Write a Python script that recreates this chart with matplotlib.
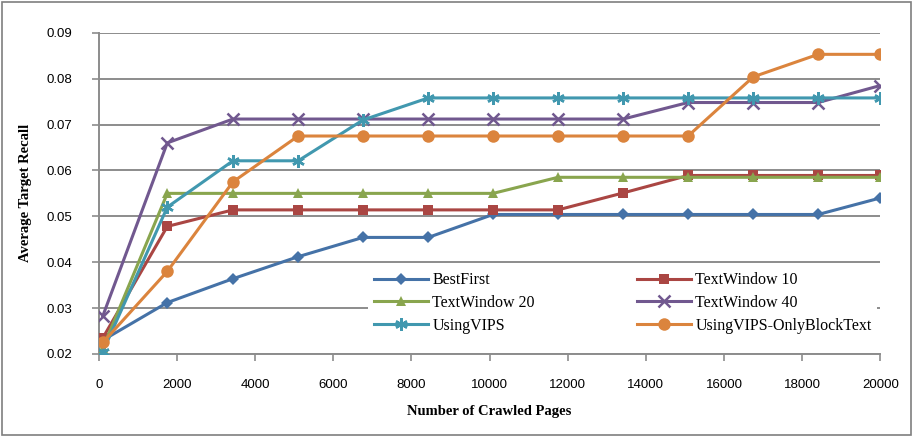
import matplotlib
matplotlib.use("Agg")
import matplotlib.pyplot as plt
from matplotlib.patches import Rectangle

# 데이터
pages = [100, 1750, 3430, 5100, 6760, 8430, 10090, 11750, 13420, 15080, 16750, 18410, 20000]
best_first = [0.0230, 0.0312, 0.0364, 0.0412, 0.0454, 0.0454, 0.0504, 0.0504, 0.0504, 0.0504, 0.0504, 0.0504, 0.0540]
text_win10 = [0.0235, 0.0478, 0.0514, 0.0514, 0.0514, 0.0514, 0.0514, 0.0514, 0.0551, 0.0589, 0.0589, 0.0589, 0.0589]
text_win20 = [0.0213, 0.0550, 0.0550, 0.0550, 0.0550, 0.0550, 0.0550, 0.0585, 0.0585, 0.0585, 0.0585, 0.0585, 0.0585]
text_win40 = [0.0283, 0.0660, 0.0712, 0.0712, 0.0712, 0.0712, 0.0712, 0.0712, 0.0712, 0.0748, 0.0748, 0.0748, 0.0785]
using_vips = [0.0205, 0.0520, 0.0621, 0.0621, 0.0710, 0.0758, 0.0758, 0.0758, 0.0758, 0.0758, 0.0758, 0.0758, 0.0758]
vips_block = [0.0225, 0.0380, 0.0575, 0.0675, 0.0675, 0.0675, 0.0675, 0.0675, 0.0675, 0.0675, 0.0804, 0.0853, 0.0853]

series = [
    ("BestFirst", best_first, "#4572A7", "D", 6),
    ("TextWindow 10", text_win10, "#AA4643", "s", 7),
    ("TextWindow 20", text_win20, "#89A54E", "^", 7.5),
    ("TextWindow 40", text_win40, "#71588F", "x", 8),
    ("UsingVIPS", using_vips, "#4198AF", (6, 2, 0), 9),
    ("UsingVIPS-OnlyBlockText", vips_block, "#DB843D", "o", 9),
]

SERIF = ["Liberation Serif", "DejaVu Serif"]
SANS = ["Liberation Sans", "DejaVu Sans"]
GRID = "#8c8c8c"

fig = plt.figure(figsize=(9.16, 4.37), dpi=100)
ax = fig.add_axes([0.108, 0.19, 0.853, 0.735])

lines = []
for name, vals, col, mk, ms in series:
    mew = 1.8 if mk in ("x", (6, 2, 0)) else 0
    ln, = ax.plot(pages, vals, color=col, lw=2.2, marker=mk, ms=ms, mew=mew,
                  mfc=col, mec=col, label=name, zorder=3)
    lines.append(ln)

ax.set_xlim(0, 20000)
ax.set_ylim(0.02, 0.09)
ax.set_xticks(range(0, 20001, 2000))
ax.set_yticks([0.02, 0.03, 0.04, 0.05, 0.06, 0.07, 0.08, 0.09])
ax.set_yticklabels([f"{v:.2f}" for v in ax.get_yticks()])
ax.grid(axis="y", color=GRID, lw=1.4, zorder=0)
ax.set_axisbelow(True)
for s in ("top", "right"):
    ax.spines[s].set_visible(False)
for s in ("left", "bottom"):
    ax.spines[s].set_color(GRID)
    ax.spines[s].set_linewidth(1.4)
ax.tick_params(axis="both", colors=GRID, length=5, width=1.2, labelcolor="black")
ax.tick_params(axis="x", pad=13)
ax.tick_params(axis="y", pad=14)
for lab in ax.get_xticklabels() + ax.get_yticklabels():
    lab.set_family(SANS)
    lab.set_fontsize(9.5)

ax.set_xlabel("Number of Crawled Pages", family=SERIF, fontweight="bold", fontsize=10.5, labelpad=10)
ax.set_ylabel("Average Target Recall", family=SERIF, fontweight="bold", fontsize=10.5, labelpad=11)

# 범례는 행 우선 순서(엑셀식) → 열 우선으로 재배치
order = [0, 2, 4, 1, 3, 5]
leg = ax.legend([lines[i] for i in order], [series[i][0] for i in order],
                loc="upper left", bbox_to_anchor=(0.345, 0.272),
                ncol=2, frameon=True, fancybox=False, framealpha=1, edgecolor="none",
                prop={"family": SERIF, "size": 11.5}, handlelength=3.4, handletextpad=0.25,
                labelspacing=0.42, borderpad=0.35, columnspacing=6.4, borderaxespad=0)
leg.get_frame().set_facecolor("white")

fig.patches.append(Rectangle((0.002, 0.004), 0.993, 0.992, transform=fig.transFigure,
                             fill=False, edgecolor="#7f7f7f", lw=1.2))

fig.savefig("out.png", dpi=100)
